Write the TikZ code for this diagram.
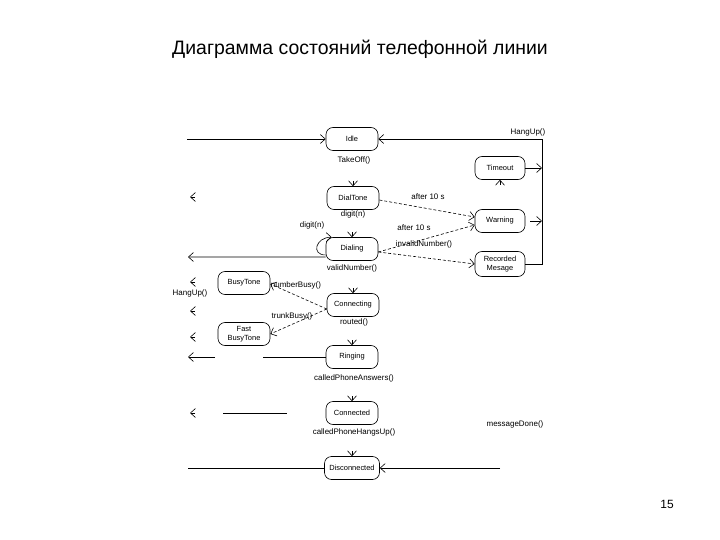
\documentclass[tikz,border=0pt]{standalone}
\usepackage{fontspec}
\setmainfont{Liberation Sans}
\usetikzlibrary{arrows.meta}
\begin{document}
\begin{tikzpicture}[x=1bp,y=-1bp,
 ln/.style={line width=0.6pt},
 state/.style={draw, line width=0.6pt, rounded corners=7bp, minimum width=52bp, minimum height=23bp, inner sep=1bp, align=center, font=\fontsize{7.5}{8.5}\selectfont},
 lbl/.style={inner sep=1bp, font=\fontsize{8}{9}\selectfont},
 arr/.style={ln, -{Straight Barb[length=5bp,width=9bp]}},
 dsh/.style={arr, dash pattern=on 3bp off 2bp}]
\useasboundingbox (0,0) rectangle (720,540);

% title and page number
\node[font=\fontsize{19.5}{22}\selectfont] (title) at (360,49) {Диаграмма состояний телефонной линии};
\node[font=\fontsize{12}{14}\selectfont] (page) at (667,504) {15};

% states
\node[state] (idle) at (352,139) {Idle};
\node[state] (dialtone) at (353,198) {DialTone};
\node[state] (dialing) at (352,249) {Dialing};
\node[state] (connecting) at (353,305) {Connecting};
\node[state] (ringing) at (352,357) {Ringing};
\node[state] (connected) at (352,413) {Connected};
\node[state, minimum width=55bp] (disconnected) at (352,468) {Disconnected};
\node[state, minimum width=50bp] (timeout) at (500,168) {Timeout};
\node[state, minimum width=50bp] (warning) at (500,221) {Warning};
\node[state, minimum width=50bp, minimum height=25bp] (recorded) at (500,264) {Recorded\\Mesage};
\node[state] (busytone) at (244,283) {BusyTone};
\node[state] (fastbusy) at (244,334) {Fast\\BusyTone};

% labels
\node[lbl] (takeoff) at (354,160) {TakeOff()};
\node[lbl] (digit1) at (353,214) {digit(n)};
\node[lbl] (digit2) at (312,225) {digit(n)};
\node[lbl] (validnum) at (352,268) {validNumber()};
\node[lbl] (routed) at (354,322) {routed()};
\node[lbl] (answers) at (354,378) {calledPhoneAnswers()};
\node[lbl] (hangsup) at (354,432) {calledPhoneHangsUp()};
\node[lbl] (hangup1) at (528,132) {HangUp()};
\node[lbl] (hangup2) at (190,293) {HangUp()};
\node[lbl] (after1) at (428,197) {after 10 s};
\node[lbl] (after2) at (414,228) {after 10 s};
\node[lbl] (invalid) at (424,244) {invalidNumber()};
\node[lbl] (numbusy) at (296,285) {numberBusy()};
\node[lbl] (trunkbusy) at (292,316) {trunkBusy()};
\node[lbl] (msgdone) at (515,424) {messageDone()};

% free ends
\coordinate (e1) at (187,139);
\coordinate (rc) at (542,139);
\coordinate (e2) at (188,257);
\coordinate (e3a) at (263,357);
\coordinate (e3b) at (215,357);
\coordinate (e3c) at (188,357);
\coordinate (e4a) at (223,413);
\coordinate (e4b) at (287,413);
\coordinate (e5) at (188,468);
\coordinate (e6) at (500,468);

% solid connectors
\draw[arr] (e1) -- (idle.west);
\draw[arr] (recorded.east) -| (rc) -- (idle.east);
\draw[arr] (timeout.east) -- (timeout.east -| rc);
\draw[arr] ([xshift=5bp]warning.east) -- (warning.east -| rc);
\draw[arr] ([yshift=-8bp]dialing.west) -- (e2);
\draw[ln] (ringing.west) -- (ringing.west -| e3a);
\draw[arr] (e3b) -- (e3c);
\draw[ln] (e4a) -- (e4b);
\draw[ln] (e5) -- (disconnected.west);
\draw[arr] (e6) -- (disconnected.east);
\draw[arr] ([yshift=-6bp]dialing.west) .. controls +(-15,0) and +(-16,0) .. ([xshift=6bp]dialing.north west);

% dashed connectors
\draw[dsh] ([yshift=-2bp]dialtone.east) -- ([yshift=4bp]warning.west);
\draw[dsh] ([yshift=-3bp]dialing.east) -- ([yshift=-4bp]warning.west);
\draw[dsh] ([yshift=-3bp]dialing.east) -- (recorded.west);
\draw[dsh] ([yshift=-4bp]connecting.west) -- ([yshift=-1bp]busytone.east);
\draw[dsh] ([yshift=-4bp]connecting.west) -- (fastbusy.east);

% arrowheads whose lines are not shown
\draw[arr] ([yshift=5bp]dialtone.north) -- (dialtone.north);
\draw[arr] ([yshift=5bp]dialing.north) -- (dialing.north);
\draw[arr] ([yshift=5bp]connecting.north) -- (connecting.north);
\draw[arr] ([yshift=5bp]ringing.north) -- (ringing.north);
\draw[arr] ([yshift=5bp]connected.north) -- (connected.north);
\draw[arr] ([yshift=5bp]disconnected.north) -- (disconnected.north);
\draw[arr] ([yshift=-5bp]timeout.south) -- (timeout.south);
\foreach \y/\n in {197/a,282/b,311/c,337/d,413/e}{
  \coordinate (t\n) at (195,\y);
  \coordinate (h\n) at (190,\y);
  \draw[arr] (t\n) -- (h\n);
}
\end{tikzpicture}
\end{document}
